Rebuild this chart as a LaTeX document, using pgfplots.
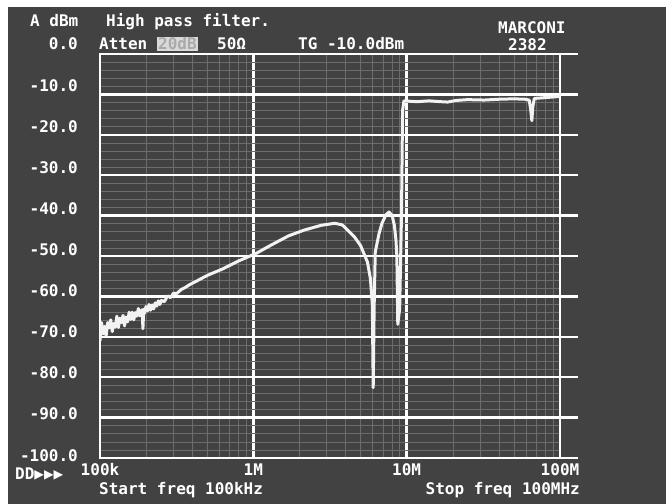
\documentclass[border=0pt]{standalone}
\usepackage{fontspec}
\setmonofont{DejaVu Sans Mono}
\usepackage{pgfplots}
\pgfplotsset{compat=1.18}

\definecolor{screen}{HTML}{424242}
\definecolor{finegrid}{HTML}{6C6C6C}
\definecolor{trace}{HTML}{F2F2F2}
\newcommand{\dm}{\ttfamily\bfseries\fontsize{16bp}{18bp}\selectfont}

\begin{document}
\begin{tikzpicture}
% photo frame and screen
\fill[white] (0bp,0bp) rectangle (669bp,504bp);
\fill[screen] (8bp,0bp) rectangle (666bp,497bp);
\path[use as bounding box] (0bp,0bp) rectangle (669bp,504bp);

\begin{axis}[
    at={(100bp,46bp)}, anchor=south west,
    scale only axis,
    width=460bp, height=404bp,
    xmode=log,
    xmin=1e5, xmax=1e8,
    ymin=-100, ymax=0,
    xtick={1e5,1e6,1e7,1e8},
    xticklabels={100k,1M,10M,100M},
    ytick={-100,-90,...,0},
    yticklabels={},
    minor y tick num=4,
    grid=both,
    major grid style={white, line width=2.4bp},
    minor grid style={finegrid, line width=0.6bp},
    axis line style={white, line width=2.4bp},
    tick style={draw=none},
    xticklabel style={text=white, font=\dm, anchor=center, yshift=-11.5bp},
]
\addplot[trace, line width=3bp, line join=round] coordinates {
    (1.000e5,-71.0) (1.023e5,-66.5) (1.047e5,-69.3) (1.072e5,-67.4)
    (1.096e5,-69.8) (1.122e5,-66.5) (1.148e5,-67.8) (1.175e5,-65.8)
    (1.202e5,-68.7) (1.230e5,-66.7) (1.259e5,-67.6) (1.288e5,-64.9)
    (1.318e5,-67.7) (1.349e5,-65.4) (1.380e5,-66.5) (1.413e5,-64.7)
    (1.445e5,-67.3) (1.479e5,-65.1) (1.514e5,-66.3) (1.549e5,-63.9)
    (1.585e5,-65.7) (1.622e5,-63.9) (1.660e5,-65.8) (1.698e5,-64.0)
    (1.738e5,-64.9) (1.778e5,-63.0) (1.820e5,-64.8) (1.862e5,-63.5)
    (1.884e5,-63.3) (1.905e5,-68.0) (1.928e5,-63.2) (1.950e5,-64.2)
    (1.995e5,-62.5) (2.042e5,-63.6) (2.089e5,-62.0) (2.138e5,-63.4)
    (2.188e5,-62.1) (2.239e5,-63.1) (2.291e5,-61.6) (2.344e5,-62.4)
    (2.399e5,-61.1) (2.455e5,-62.0) (2.512e5,-61.0) (2.630e5,-61.3)
    (2.754e5,-59.9) (2.884e5,-60.3) (3.020e5,-59.2) (3.162e5,-59.3)
    (3.388e5,-58.3) (3.631e5,-57.7) (3.838e5,-57.1) (4.169e5,-56.4)
    (4.571e5,-55.6) (5.012e5,-54.8) (5.623e5,-54.0) (6.310e5,-53.2)
    (7.940e5,-51.3) (1.050e6,-49.3) (1.320e6,-47.2) (1.700e6,-45.0)
    (2.140e6,-43.6) (2.770e6,-42.4) (3.400e6,-41.9) (3.800e6,-42.3)
    (4.120e6,-43.6) (4.570e6,-45.3) (5.000e6,-47.4) (5.550e6,-51.5)
    (5.800e6,-55.6) (5.970e6,-62.0) (6.050e6,-82.6) (6.140e6,-62.0)
    (6.240e6,-49.0) (6.600e6,-44.5) (6.900e6,-41.9) (7.330e6,-39.8)
    (7.670e6,-39.1) (8.040e6,-40.0) (8.320e6,-42.5) (8.510e6,-46.0)
    (8.630e6,-50.0) (8.750e6,-66.9) (9.000e6,-63.0) (9.250e6,-40.0)
    (9.400e6,-14.0) (9.600e6,-11.6) (1.050e7,-11.7) (1.170e7,-11.8)
    (1.400e7,-11.6) (1.660e7,-11.8) (1.850e7,-11.9) (2.100e7,-11.5)
    (2.500e7,-11.3) (3.200e7,-11.4) (4.000e7,-11.2) (5.000e7,-11.1)
    (5.900e7,-11.2) (6.300e7,-11.4) (6.450e7,-14.0) (6.550e7,-16.5)
    (6.650e7,-13.0) (6.800e7,-11.0) (8.000e7,-10.8) (1.000e8,-10.5)
};
\end{axis}

% horizontal graticule lines run a little past the right edge
\foreach \k in {0,...,10}
  \draw[white, line width=2.4bp] (560bp,{(450-40.4*\k)*1bp}) -- ++(18bp,0bp);

% level labels
\foreach \k in {0,...,10} {
  \pgfmathtruncatemacro\v{-10*\k}
  \node[anchor=base east, inner sep=0pt, text=white, font=\dm]
    at (78bp,{(504-50-41.1*\k)*1bp}) {\v.0};
}

% screen annotations
\begin{scope}[every node/.style={inner sep=0pt, text=white, font=\dm}]
  \node[anchor=base west] at (30bp,477bp) {A dBm};
  \node[anchor=base west] at (106bp,477bp) {High pass filter.};
  \node[anchor=base west] at (99bp,454bp) {Atten};
  \fill[white!80!screen] (157bp,453bp) rectangle (198bp,467bp);
  \node[anchor=base west, text=white!55!screen] at (158bp,454bp) {20dB};
  \node[anchor=base west] at (217bp,454bp) {50Ω};
  \node[anchor=base west] at (298bp,454bp) {TG -10.0dBm};
  \node[anchor=base west] at (498bp,470bp) {MARCONI};
  \node[anchor=base west] at (508bp,453bp) {2382};
  \node[anchor=base west] at (15bp,25bp) {DD▶▶▶};
  \node[anchor=base west] at (99bp,10bp) {Start freq 100kHz};
  \node[anchor=base east] at (580bp,10bp) {Stop freq 100MHz};
\end{scope}
\end{tikzpicture}
\end{document}
